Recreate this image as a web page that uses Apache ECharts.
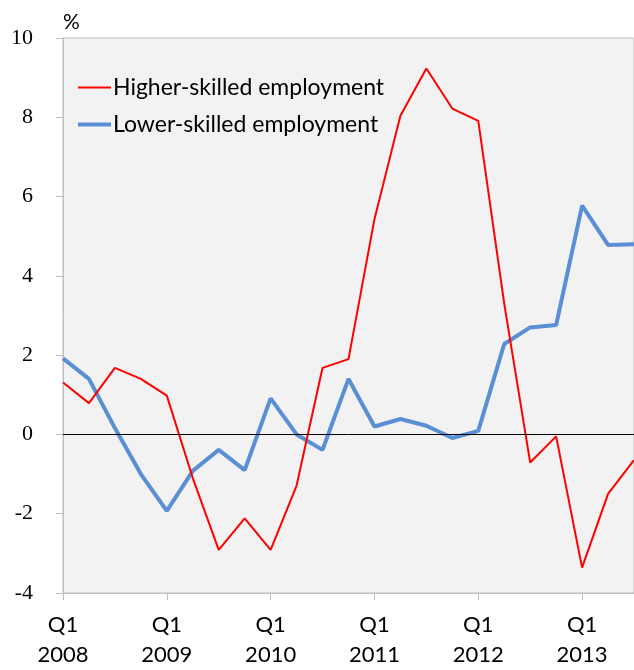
<!DOCTYPE html>
<html>
<head>
<meta charset="utf-8">
<script src="https://cdn.jsdelivr.net/npm/echarts@6/dist/echarts.min.js"></script>
<style>html,body{margin:0;padding:0;background:#fff;}#c{width:634px;height:670px;}</style>
</head>
<body>
<div id="c"></div>
<script>
var quarters = ['Q1 2008','Q2 2008','Q3 2008','Q4 2008','Q1 2009','Q2 2009','Q3 2009','Q4 2009',
  'Q1 2010','Q2 2010','Q3 2010','Q4 2010','Q1 2011','Q2 2011','Q3 2011','Q4 2011',
  'Q1 2012','Q2 2012','Q3 2012','Q4 2012','Q1 2013','Q2 2013','Q3 2013'];
var higherSkilled = [1.31,0.79,1.68,1.40,0.98,-1.1,-2.91,-2.12,-2.91,-1.29,1.68,1.90,5.43,8.04,9.23,8.22,7.91,3.3,-0.71,-0.05,-3.36,-1.50,-0.65];
var lowerSkilled = [1.92,1.40,0.16,-1.0,-1.93,-0.92,-0.39,-0.90,0.91,0.0,-0.39,1.40,0.20,0.39,0.22,-0.09,0.09,2.28,2.70,2.76,5.77,4.78,4.80];
var yTicks = {min:-4, max:10, interval:2};
var seriesNames = ['Higher-skilled employment','Lower-skilled employment'];

var chart = echarts.init(document.getElementById('c'), null, {renderer:'canvas'});
var sansFont = 'Lato';
chart.setOption({
  animation:false,
  backgroundColor:'#ffffff',
  title:{text:'%', left:58, top:7, textStyle:{fontFamily:sansFont, fontSize:21, fontWeight:'normal', color:'#000'}},
  grid:{left:63, top:38, bottom:75, right:-3, show:true, backgroundColor:'#f2f2f2', borderColor:'#bfbfbf', borderWidth:1},
  legend:[
    {data:[seriesNames[0]], left:73, top:71, itemWidth:33, itemHeight:2, icon:'rect', itemGap:0,
     textStyle:{fontFamily:sansFont, fontSize:23, color:'#000', padding:[0,0,0,-3]}},
    {data:[seriesNames[1]], left:73, top:108, itemWidth:33, itemHeight:4, icon:'rect', itemGap:0,
     textStyle:{fontFamily:sansFont, fontSize:23, color:'#000', padding:[0,0,0,-3]}}
  ],
  xAxis:{type:'category', data:quarters, boundaryGap:false,
    axisLine:{show:true, onZero:false, lineStyle:{color:'#bfbfbf', width:1}},
    axisTick:{show:true, interval:3, length:7, lineStyle:{color:'#bfbfbf'}},
    axisLabel:{interval:3, color:'#000', fontFamily:sansFont, fontSize:22, lineHeight:30, margin:17,
      formatter:function(v){return v.replace(' ','\n');}},
    splitLine:{show:false}},
  yAxis:{type:'value', min:yTicks.min, max:yTicks.max, interval:yTicks.interval,
    axisLine:{show:true, lineStyle:{color:'#bfbfbf', width:1}},
    axisTick:{show:true, length:7, lineStyle:{color:'#bfbfbf'}},
    axisLabel:{color:'#000', fontFamily:'Liberation Serif', fontSize:22, margin:30},
    splitLine:{show:false}},
  series:[
    {name:seriesNames[0], type:'line', data:higherSkilled, symbol:'none', z:3,
     lineStyle:{color:'#ff0000', width:2}, itemStyle:{color:'#ff0000'}},
    {name:seriesNames[1], type:'line', data:lowerSkilled, symbol:'none', z:2,
     lineStyle:{color:'#5a8fd5', width:4}, itemStyle:{color:'#5a8fd5'},
     markLine:{silent:true, symbol:'none', label:{show:false}, data:[{yAxis:0}],
       lineStyle:{color:'#000', width:1, type:'solid'}}}
  ]
});
</script>
</body>
</html>
